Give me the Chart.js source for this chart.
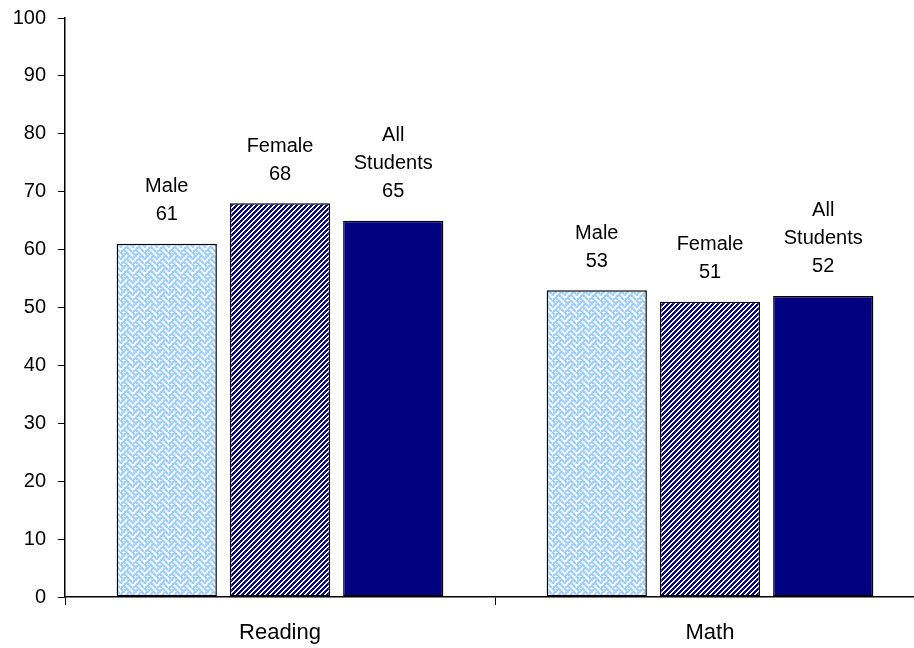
<!DOCTYPE html>
<html>
<head>
<meta charset="utf-8">
<script src="https://cdn.jsdelivr.net/npm/chart.js@4/dist/chart.umd.min.js"></script>
<style>
  html, body { margin: 0; padding: 0; background: #fff; overflow: hidden; width: 914px; height: 648px; }
  #wrap { width: 930px; height: 648px; }
</style>
</head>
<body>
<div id="wrap"><canvas id="c" width="930" height="648"></canvas></div>
<script>
// Percentage of students at or above proficiency, by subject and group
const subjects = ['Reading', 'Math'];
const groups = ['Male', 'Female', 'All Students'];
const maleScores = [61, 53];
const femaleScores = [68, 51];
const allScores = [65, 52];
const yMin = 0, yMax = 100, yStep = 10;

const FONT = '"Liberation Sans", Arial, sans-serif';

// Light blue basket-weave fill
function weavePattern() {
  const bits = [0x88, 0x54, 0x22, 0x45, 0x88, 0x14, 0x22, 0x51];
  const s = 1.5;
  const c = document.createElement('canvas');
  c.width = 12; c.height = 12;
  const g = c.getContext('2d');
  g.fillStyle = '#fff';
  g.fillRect(0, 0, 12, 12);
  g.fillStyle = '#99ccff';
  for (let y = 0; y < 8; y++) {
    for (let x = 0; x < 8; x++) {
      if (bits[y] & (0x80 >> x)) {
        g.fillRect(x * s - 0.4, y * s - 0.4, s + 0.8, s + 0.8);
        // wrap the overlap across tile edges
        if (x === 0) g.fillRect(12 - 0.4, y * s - 0.4, 0.4, s + 0.8);
        if (y === 0) g.fillRect(x * s - 0.4, 12 - 0.4, s + 0.8, 0.4);
      }
    }
  }
  return g.createPattern(c, 'repeat');
}

// Navy upward-diagonal hatch
function hatchPattern() {
  const n = 5;
  const c = document.createElement('canvas');
  c.width = n; c.height = n;
  const g = c.getContext('2d');
  g.fillStyle = '#fff';
  g.fillRect(0, 0, n, n);
  g.fillStyle = '#000080';
  for (let y = 0; y < n; y++) {
    for (let x = 0; x < n; x++) {
      if ((x + y) % n < 3) g.fillRect(x, y, 1, 1);
    }
  }
  return g.createPattern(c, 'repeat');
}

// Group name and value stacked above each bar
const barLabels = {
  id: 'barLabels',
  afterDatasetsDraw(chart) {
    const ctx = chart.ctx;
    ctx.save();
    ctx.font = '20px ' + FONT;
    ctx.fillStyle = '#000';
    ctx.textAlign = 'center';
    ctx.textBaseline = 'middle';
    chart.data.datasets.forEach((ds, i) => {
      const meta = chart.getDatasetMeta(i);
      meta.data.forEach((bar, j) => {
        const lines = ds.label.split(' ').concat(String(ds.data[j]));
        const base = bar.y - 29;
        lines.forEach((t, k) => {
          ctx.fillText(t, bar.x, base - (lines.length - 1 - k) * 28);
        });
      });
    });
    ctx.restore();
  }
};

const common = { borderColor: '#000', borderWidth: 1.5, borderSkipped: false };

new Chart(document.getElementById('c'), {
  type: 'bar',
  data: {
    labels: subjects,
    datasets: [
      { label: groups[0], data: maleScores, backgroundColor: weavePattern(), ...common },
      { label: groups[1], data: femaleScores, backgroundColor: hatchPattern(), ...common },
      { label: groups[2], data: allScores, backgroundColor: '#000080', ...common }
    ]
  },
  options: {
    responsive: false,
    animation: false,
    layout: { padding: { top: 18, right: 5, left: 0, bottom: 0 } },
    categoryPercentage: 0.79,
    barPercentage: 0.885,
    plugins: { legend: { display: false }, tooltip: { enabled: false } },
    scales: {
      x: {
        grid: { offset: true, drawOnChartArea: false, tickLength: 8, color: '#000', lineWidth: 1 },
        border: { color: '#000', width: 1.5 },
        ticks: { color: '#000', font: { family: FONT, size: 22 }, padding: 15 },
        afterFit(s) { s.height = 51; s.paddingLeft = 0; s.paddingRight = 0; }
      },
      y: {
        min: yMin, max: yMax,
        grid: { drawOnChartArea: false, tickLength: 7, color: '#000', lineWidth: 1 },
        border: { color: '#000', width: 1.5 },
        ticks: { stepSize: yStep, color: '#000', font: { family: FONT, size: 20 }, padding: 12 },
        afterFit(s) { s.width = 65; s.paddingTop = 0; s.paddingBottom = 0; }
      }
    }
  },
  plugins: [barLabels]
});
</script>
</body>
</html>
